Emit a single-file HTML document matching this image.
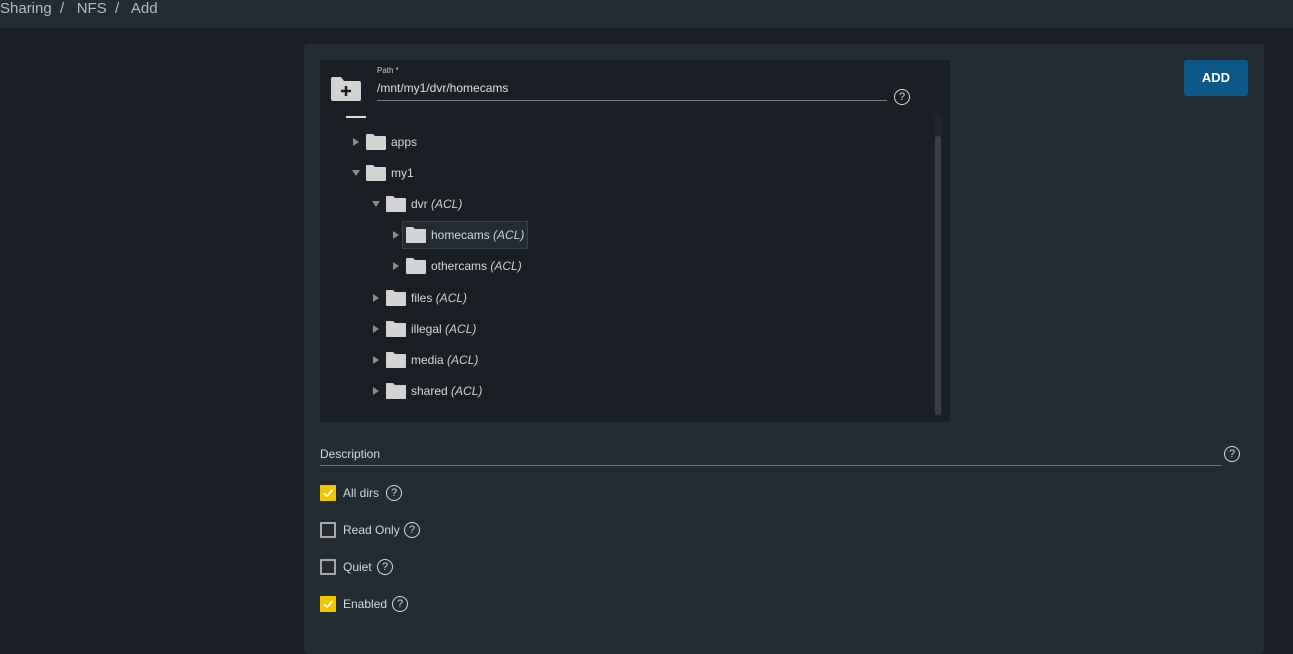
<!DOCTYPE html>
<html><head><style>
body{margin:0;width:1293px;height:642px;background:#1a1f26;font-family:"Liberation Sans",sans-serif;position:relative;overflow:hidden;color:#d6d6d6}
.a{position:absolute}
.t{position:absolute;font-size:12px;color:#d8d8d8;white-space:nowrap;line-height:14px}
.t i{color:#cfcfcf}
.ar{position:absolute;width:0;height:0;border-top:4px solid transparent;border-bottom:4px solid transparent;border-left:6px solid #8a8d90}
.ad{position:absolute;width:0;height:0;border-left:4px solid transparent;border-right:4px solid transparent;border-top:6px solid #8a8d90}
.help{position:absolute;width:14px;height:14px;border:1.6px solid #d8d8d8;border-radius:50%;font-size:11px;text-align:center;line-height:14px;color:#d8d8d8}
.cb{position:absolute;width:12px;height:12px;border:2px solid #a8a8a8;border-radius:1px}
.cbk{position:absolute;width:16px;height:16px;background:#f0c800;border-radius:1px}
</style></head><body>
<div class="a" style="left:0;top:0;width:1293px;height:28px;background:#232b33"></div>
<div class="t" style="left:0;top:0;font-size:15px;color:#b5b9bd;line-height:18px">Sharing&nbsp; /&nbsp;&nbsp; NFS&nbsp; /&nbsp;&nbsp; Add</div>
<div class="a" style="left:304px;top:44px;width:960px;height:610px;background:#232b33;border-radius:4px"></div>
<div class="a" style="left:1184px;top:60px;width:64px;height:36px;background:#0e5789;border-radius:3px;color:#fff;font-weight:bold;font-size:13px;text-align:center;line-height:36px">ADD</div>
<div class="a" style="left:320px;top:60px;width:630px;height:362px;background:#1a1e25"></div>
<svg class="a" style="left:330px;top:76px" width="32" height="26"><path d="M1 3 Q1 1 3 1 H11 L14 5 H29 Q31 5 31 7 V23 Q31 25 29 25 H3 Q1 25 1 23Z" fill="#d3d3d3"/><path d="M16 10V20M11 15H21" stroke="#1a1e25" stroke-width="2.5"/></svg>
<div class="t" style="left:377px;top:66px;font-size:8px;color:#ccc;line-height:10px">Path *</div>
<div class="t" style="left:377px;top:81px;font-size:12px;color:#e0e0e0">/mnt/my1/dvr/homecams</div>
<div class="a" style="left:377px;top:100px;width:510px;height:1px;background:#7a7f85"></div>
<div class="help" style="left:894px;top:89px">?</div>
<div class="a" style="left:346px;top:116px;width:20px;height:2px;background:#ddd"></div>
<div class="a" style="left:934px;top:116px;width:8px;height:300px;background:#20252c"></div>
<div class="a" style="left:935px;top:136px;width:6px;height:279px;background:#3a3f45;border-radius:3px"></div>
<div class="a" style="left:402px;top:221px;width:126px;height:28px;background:#232b33;border:1px solid #3a4149;box-sizing:border-box"></div>

<svg width="0" height="0" style="position:absolute"><defs><symbol id="f" viewBox="0 0 20 16"><path d="M0 1 Q0 0 1 0 H7 L9 2 H19 Q20 2 20 3 V15 Q20 16 19 16 H1 Q0 16 0 15Z" fill="#d3d3d3"/></symbol></defs></svg>

<div class="ar" style="left:353px;top:138px"></div><svg class="a" style="left:366px;top:134px" width="20" height="16"><use href="#f"/></svg><div class="t" style="left:391px;top:135px">apps</div>
<div class="ad" style="left:352px;top:170px"></div><svg class="a" style="left:366px;top:165px" width="20" height="16"><use href="#f"/></svg><div class="t" style="left:391px;top:166px">my1</div>
<div class="ad" style="left:372px;top:201px"></div><svg class="a" style="left:386px;top:196px" width="20" height="16"><use href="#f"/></svg><div class="t" style="left:411px;top:197px">dvr <i>(ACL)</i></div>
<div class="ar" style="left:393px;top:231px"></div><svg class="a" style="left:406px;top:227px" width="20" height="16"><use href="#f"/></svg><div class="t" style="left:431px;top:228px">homecams <i>(ACL)</i></div>
<div class="ar" style="left:393px;top:262px"></div><svg class="a" style="left:406px;top:258px" width="20" height="16"><use href="#f"/></svg><div class="t" style="left:431px;top:259px">othercams <i>(ACL)</i></div>
<div class="ar" style="left:373px;top:294px"></div><svg class="a" style="left:386px;top:290px" width="20" height="16"><use href="#f"/></svg><div class="t" style="left:411px;top:291px">files <i>(ACL)</i></div>
<div class="ar" style="left:373px;top:325px"></div><svg class="a" style="left:386px;top:321px" width="20" height="16"><use href="#f"/></svg><div class="t" style="left:411px;top:322px">illegal <i>(ACL)</i></div>
<div class="ar" style="left:373px;top:356px"></div><svg class="a" style="left:386px;top:352px" width="20" height="16"><use href="#f"/></svg><div class="t" style="left:411px;top:353px">media <i>(ACL)</i></div>
<div class="ar" style="left:373px;top:387px"></div><svg class="a" style="left:386px;top:383px" width="20" height="16"><use href="#f"/></svg><div class="t" style="left:411px;top:384px">shared <i>(ACL)</i></div>

<div class="t" style="left:320px;top:447px">Description</div>
<div class="a" style="left:320px;top:465px;width:902px;height:1px;background:#6d737a"></div>
<div class="help" style="left:1224px;top:446px">?</div>

<div class="cbk" style="left:320px;top:485px"></div><svg class="a" style="left:320px;top:485px" width="16" height="16"><path d="M4 8.5L7 11L12.5 5" stroke="#fff" stroke-width="1.6" fill="none"/></svg>
<div class="t" style="left:343px;top:486px">All dirs</div><div class="help" style="left:386px;top:485px">?</div>
<div class="cb" style="left:320px;top:522px"></div>
<div class="t" style="left:343px;top:523px">Read Only</div><div class="help" style="left:404px;top:522px">?</div>
<div class="cb" style="left:320px;top:559px"></div>
<div class="t" style="left:343px;top:560px">Quiet</div><div class="help" style="left:377px;top:559px">?</div>
<div class="cbk" style="left:320px;top:596px"></div><svg class="a" style="left:320px;top:596px" width="16" height="16"><path d="M4 8.5L7 11L12.5 5" stroke="#fff" stroke-width="1.6" fill="none"/></svg>
<div class="t" style="left:343px;top:597px">Enabled</div><div class="help" style="left:392px;top:596px">?</div>
</body></html>
